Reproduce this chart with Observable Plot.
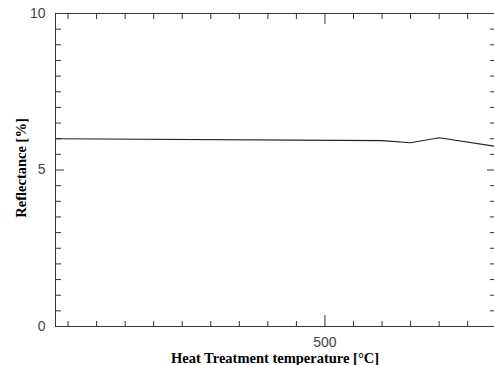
<!DOCTYPE html>
<html>
<head>
<meta charset="utf-8">
<script src="https://cdn.jsdelivr.net/npm/d3@7"></script>
<script src="https://cdn.jsdelivr.net/npm/@observablehq/plot@0.6"></script>
<style>
  html, body { margin: 0; padding: 0; background: #fff; }
  #chart svg { display: block; }
</style>
</head>
<body>
<div id="chart"></div>
<script>
// Data
const temperatures = [28, 600, 650, 700, 797];   // °C
const reflectance  = [6.0, 5.94, 5.87, 6.03, 5.76]; // %
const xDomain = [28, 797];
const yDomain = [0, 10];
const xMajorTicks = [500];
const xMinorTicks = [50, 100, 150, 200, 250, 300, 350, 400, 450, 550, 600, 650, 700, 750];
const yMajorTicks = [0, 5, 10];
const yMinorTicks = [0.5, 1, 1.5, 2, 2.5, 3, 3.5, 4, 4.5, 5.5, 6, 6.5, 7, 7.5, 8, 8.5, 9, 9.5];
const xTitle = "Heat Treatment temperature [°C]";
const yTitle = "Reflectance [%]";

const data = temperatures.map((t, i) => ({t, r: reflectance[i]}));

const W = 494, H = 365, mT = 13, mB = 39, mL = 55, mR = 0;
const ph = H - mT - mB, pw = W - mL - mR;
const frameColor = "#333";

const chart = Plot.plot({
  width: W, height: H,
  marginTop: mT, marginBottom: mB, marginLeft: mL, marginRight: mR,
  style: {background: "#fff", overflow: "visible"},
  x: {domain: xDomain, axis: null},
  y: {domain: yDomain, axis: null},
  marks: [
    // frame lines (left, top, bottom)
    Plot.ruleX([xDomain[0]], {stroke: frameColor, strokeWidth: 1}),
    Plot.ruleY([yDomain[0], yDomain[1]], {stroke: frameColor, strokeWidth: 1}),
    // bottom ticks (inward)
    Plot.tickX(xMinorTicks, {x: d => d, insetTop: ph - 5, stroke: frameColor}),
    Plot.tickX(xMajorTicks, {x: d => d, insetTop: ph - 11, stroke: frameColor}),
    // top ticks (inward)
    Plot.tickX(xMinorTicks, {x: d => d, insetBottom: ph - 6, stroke: frameColor}),
    Plot.tickX(xMajorTicks, {x: d => d, insetBottom: ph - 11, stroke: frameColor}),
    // left ticks (inward)
    Plot.tickY(yMinorTicks, {y: d => d, insetRight: pw - 6, stroke: frameColor}),
    Plot.tickY(yMajorTicks, {y: d => d, insetRight: pw - 9, stroke: frameColor}),
    // right ticks (inward)
    Plot.tickY(yMinorTicks, {y: d => d, insetLeft: pw - 4, stroke: frameColor}),
    Plot.tickY(yMajorTicks, {y: d => d, insetLeft: pw - 7, stroke: frameColor}),
    // tick labels
    Plot.text(yMajorTicks, {y: d => d, text: d => String(d), frameAnchor: "left", dx: -10,
      textAnchor: "end", fontFamily: "Liberation Sans", fontSize: 14, fill: "#444"}),
    Plot.text(xMajorTicks, {x: d => d, text: d => String(d), frameAnchor: "bottom", dy: 16,
      lineAnchor: "middle", fontFamily: "Liberation Sans", fontSize: 14, fill: "#444"}),
    // axis titles
    Plot.text([xTitle], {text: d => d, frameAnchor: "bottom", dy: 32, lineAnchor: "middle",
      fontFamily: "Liberation Serif", fontWeight: "bold", fontSize: 14.5, fill: "#000"}),
    Plot.text([yTitle], {text: d => d, frameAnchor: "left", dx: -34, dy: -2, rotate: -90,
      textAnchor: "middle", lineAnchor: "middle",
      fontFamily: "Liberation Serif", fontWeight: "bold", fontSize: 14.5, fill: "#000"}),
    // data line
    Plot.line(data, {x: "t", y: "r", stroke: "#222", strokeWidth: 1.1})
  ]
});
document.getElementById("chart").appendChild(chart);
</script>
</body>
</html>
